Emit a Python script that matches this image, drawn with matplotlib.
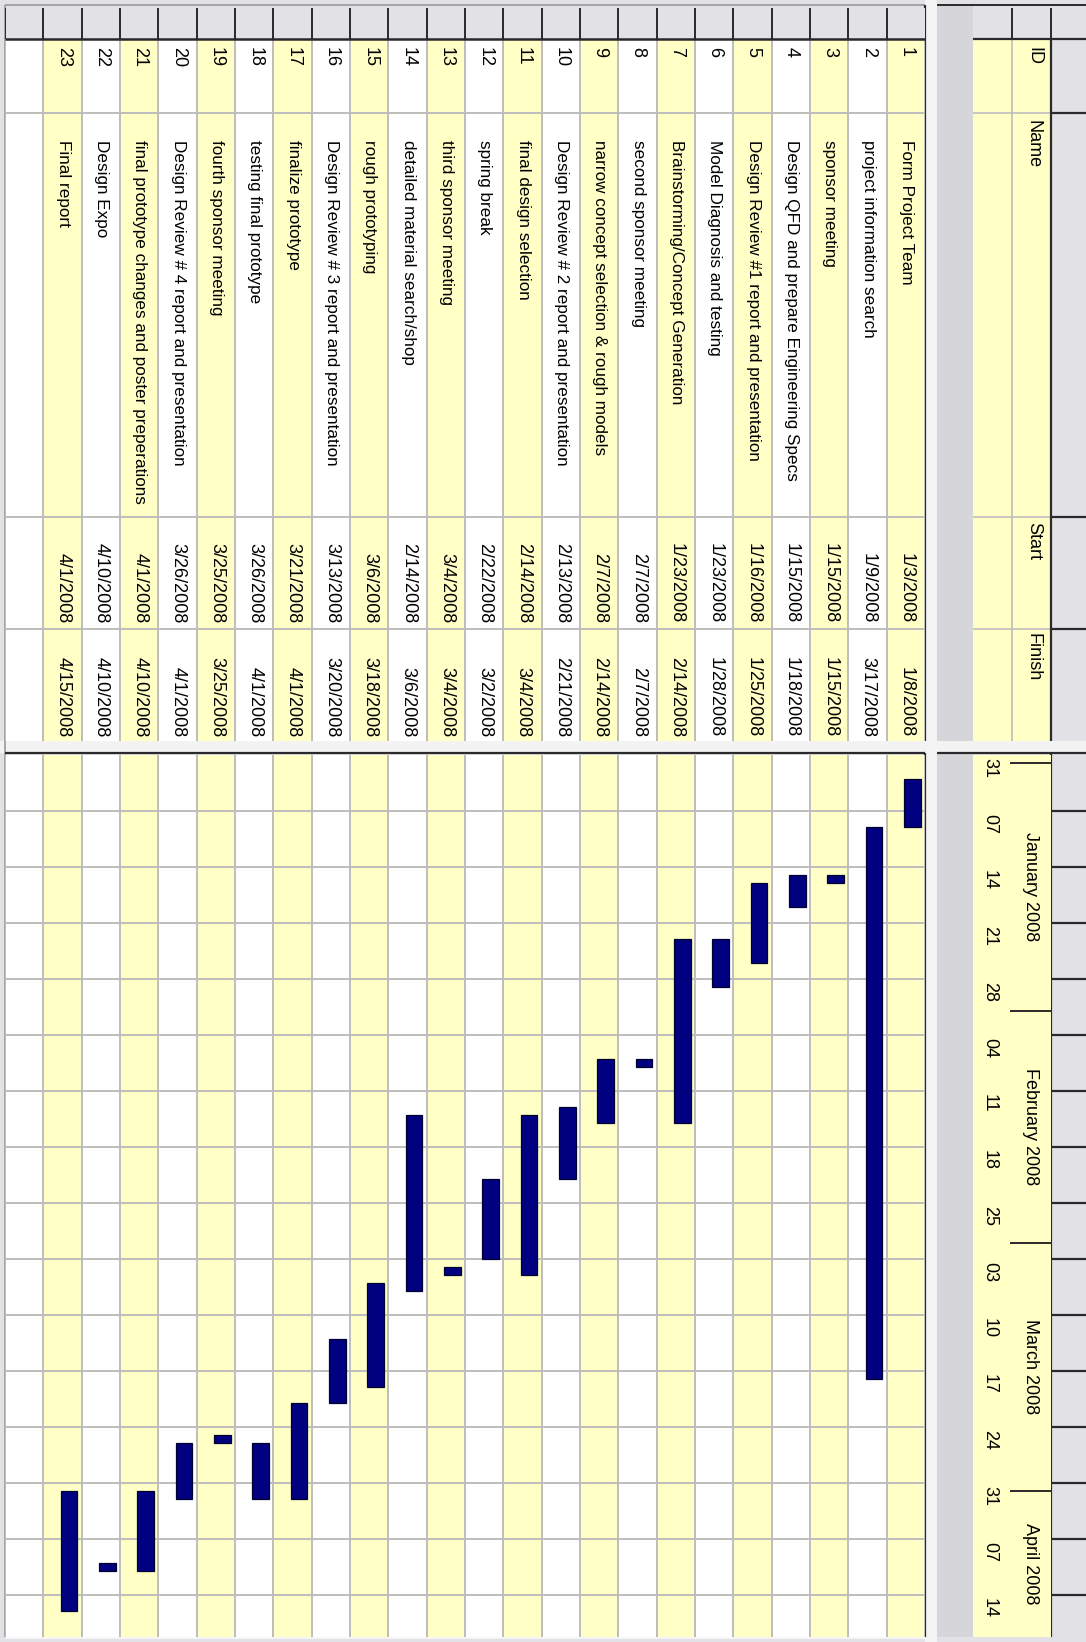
import matplotlib
matplotlib.use("Agg")
import matplotlib.pyplot as plt
import matplotlib.dates as mdates
from matplotlib.patches import Rectangle
import numpy as np
from datetime import datetime, timedelta

# task table
ids = list(range(1, 24))
names = ["Form Project Team",
         "project information search",
         "sponsor meeting",
         "Design QFD and prepare Engineering Specs",
         "Design Review #1 report and presentation",
         "Model Diagnosis and testing",
         "Brainstorming/Concept Generation",
         "second sponsor meeting",
         "narrow concept selection & rough models",
         "Design Review # 2 report and presentation",
         "final design selection",
         "spring break",
         "third sponsor meeting",
         "detailed material search/shop",
         "rough prototyping",
         "Design Review # 3 report and presentation",
         "finalize prototype",
         "testing final prototype",
         "fourth sponsor meeting",
         "Design Review # 4 report and presentation",
         "final prototype changes and poster preperations",
         "Design Expo",
         "Final report"]
starts = ["1/3/2008", "1/9/2008", "1/15/2008", "1/15/2008", "1/16/2008", "1/23/2008",
          "1/23/2008", "2/7/2008", "2/7/2008", "2/13/2008", "2/14/2008", "2/22/2008",
          "3/4/2008", "2/14/2008", "3/6/2008", "3/13/2008", "3/21/2008", "3/26/2008",
          "3/25/2008", "3/26/2008", "4/1/2008", "4/10/2008", "4/1/2008"]
finishes = ["1/8/2008", "3/17/2008", "1/15/2008", "1/18/2008", "1/25/2008", "1/28/2008",
            "2/14/2008", "2/7/2008", "2/14/2008", "2/21/2008", "3/4/2008", "3/2/2008",
            "3/4/2008", "3/6/2008", "3/18/2008", "3/20/2008", "4/1/2008", "4/1/2008",
            "3/25/2008", "4/1/2008", "4/10/2008", "4/10/2008", "4/15/2008"]
headers = ["ID", "Name", "Start", "Finish"]

# timescale
months = ["January 2008", "February 2008", "March 2008", "April 2008", None]
month_starts = ["1/1/2008", "2/1/2008", "3/1/2008", "4/1/2008", "5/1/2008"]
view_start = datetime(2007, 12, 31)
view_end = datetime(2008, 4, 19, 6)

def d(s):
    return datetime.strptime(s, "%m/%d/%Y")

start_num = mdates.date2num([d(s) for s in starts])
end_num = mdates.date2num([d(s) + timedelta(days=1) for s in finishes])
weeks = []
w = view_start
while w < view_end:
    weeks.append(w)
    w += timedelta(days=7)
week_num = mdates.date2num(weeks)
y0, y1 = mdates.date2num(view_start), mdates.date2num(view_end)

BG = "#e2e1e5"
BAND = "#d5d5da"
LIGHT = "#f3f3f3"
YEL = "#ffffc6"
GRID = "#bdbdbd"
DARK = "#2a2a2a"
NAVY = "#000080"
FAM = ["Liberation Sans", "DejaVu Sans"]
FONT = dict(family=FAM, fontsize=13, color="black")
NAMEFONT = dict(family=FAM, fontsize=12.3, color="black")
ROT = dict(rotation=-90, rotation_mode="anchor")

W, H = 1086, 1642
fig = plt.figure(figsize=(W / 100, H / 100), dpi=100)
fig.patch.set_facecolor(BG)


def box(xa, ya, xb, yb):
    ax = fig.add_axes([xa / W, 1 - yb / H, (xb - xa) / W, (yb - ya) / H])
    ax.set_axis_off()
    return ax


# window frame, bands and splitter (pixel units)
bg = box(0, 0, W, H)
bg.set_xlim(0, W)
bg.set_ylim(H, 0)
bg.add_patch(Rectangle((0, 0), W, H, fc=BG, ec="none"))
bg.add_patch(Rectangle((925, 0), 12, H, fc=LIGHT, ec="none"))
bg.add_patch(Rectangle((937, 5), 36, 1632, fc=BAND, ec="none"))
bg.add_patch(Rectangle((0, 741), W, 12, fc=LIGHT, ec="none"))
bg.hlines(5, 5, 925, color="#9a9a9a", lw=1.2)
bg.vlines(5, 5, 1637, color="#9a9a9a", lw=1.2)
bg.hlines(5, 937, W, color=DARK, lw=1.4)
bg.hlines(753, 5, 925, color=DARK, lw=1.6)
bg.hlines(753, 937, W, color=DARK, lw=1.6)
bg.hlines(1638, 5, 925, color="#f6f6f6", lw=1.4)

# table header
col_edges = [8, 39, 113, 517, 629, 741]
bg.add_patch(Rectangle((973, 39), 78, 702, fc=YEL, ec="none"))
bg.add_patch(Rectangle((973, 8), 113, 31, fc=BG, ec="none"))
bg.vlines(1012, 39, 741, color=GRID, lw=1.2)
bg.hlines(col_edges[2:5], 973, 1051, color=GRID, lw=1.2)
bg.vlines([1012, 1051], 8, 39, color=DARK, lw=1.4)
bg.hlines(39, 973, W, color=DARK, lw=1.6)
bg.vlines(1051, 39, 741, color=DARK, lw=1.6)
bg.hlines(col_edges[2:5], 1051, W, color=DARK, lw=1.6)
bg.vlines(925, 5, 741, color=DARK, lw=1.6)
for label, ya in zip(headers, [47, 120, 522, 633]):
    bg.text(1029, ya, label, ha="left", va="baseline", **ROT, **FONT)

# table rows
tab = box(5, 8, 925, 741)
tab.set_xlim(24.5, 0.5)
tab.set_ylim(741, 8)
for r in range(1, 25):
    face = YEL if (r % 2 == 1 and r <= len(ids)) else "white"
    tab.add_patch(Rectangle((r - 0.5, col_edges[1]), 1, 741 - col_edges[1], fc=face, ec="none"))
    tab.add_patch(Rectangle((r - 0.5, 8), 1, col_edges[1] - 8, fc=BG, ec="none"))
tab.vlines(np.arange(0.5, 25), col_edges[1], 741, color=GRID, lw=1.4)
tab.hlines(col_edges[2:5], 0.5, 24.5, color=GRID, lw=1.4)
tab.vlines(np.arange(1.5, 25), 8, col_edges[1], color=DARK, lw=1.4)
tab.hlines(col_edges[1], 0.5, 24.5, color=DARK, lw=1.8)
for i, n, s, f in zip(ids, names, starts, finishes):
    xr = i + 0.1
    tab.text(xr, 47, str(i), ha="left", va="baseline", **ROT, **FONT)
    tab.text(xr, 140, n, ha="left", va="baseline", **ROT, **NAMEFONT)
    tab.text(xr, 623, s, ha="right", va="baseline", **ROT, **FONT)
    tab.text(xr, 737, f, ha="right", va="baseline", **ROT, **FONT)

# gantt chart
g = box(5, 755, 925, 1637)
g.set_xlim(24.5, 0.5)
g.set_ylim(y1, y0)
for r in range(1, 25):
    face = YEL if (r % 2 == 1 and r <= len(ids)) else "white"
    g.axvspan(r - 0.5, r + 0.5, color=face, lw=0)
g.hlines(week_num[1:], 0.5, 24.5, color=GRID, lw=1.4)
g.vlines(np.arange(0.5, 25), y0, y1, color=GRID, lw=1.4)
g.bar(np.array(ids) - 0.17, end_num - start_num, bottom=start_num, width=0.44,
      color=NAVY, edgecolor="#000030", lw=0.9, zorder=3)
bg.vlines(925, 753, 1637, color=DARK, lw=1.6)

# timescale: days and months
ts = box(973, 755, 1051, 1637)
ts.set_xlim(973, 1051)
ts.set_ylim(y1, y0)
ts.axvspan(973, 1051, color=YEL, lw=0)
for wk, wn in zip(weeks, week_num):
    ts.text(985, wn + 0.35, wk.strftime("%d"), ha="left", va="baseline", **ROT, **FONT)
m_num = mdates.date2num([d(s) for s in month_starts])
ts.hlines(m_num[:-1], 1010, 1051, color=DARK, lw=1.4)
for label, ma, mb in zip(months, m_num[:-1], m_num[1:]):
    if label:
        mid = (max(ma, y0) + min(mb, y1)) / 2
        ts.text(1026, mid, label, ha="center", va="baseline", **ROT, **FONT)

# top tier (blank gray cells)
tier = box(1051, 755, 1086, 1637)
tier.set_xlim(0, 1)
tier.set_ylim(y1, y0)
tier.hlines(week_num[1:], 0, 1, color=DARK, lw=1.6)
bg.vlines(1051, 753, 1637, color=DARK, lw=1.6)

fig.savefig("out.png", dpi=100, facecolor=BG)
